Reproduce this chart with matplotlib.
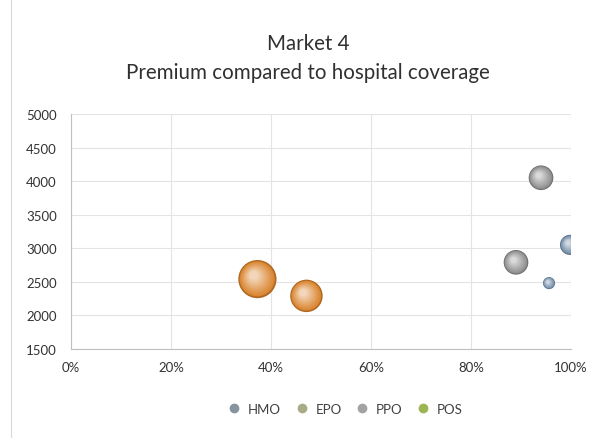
import matplotlib.pyplot as plt
import numpy as np
from matplotlib.colors import to_rgb
from matplotlib.patches import Rectangle
from matplotlib.lines import Line2D

plt.rcParams['font.family'] = ['Lato', 'DejaVu Sans']

# data: hospital coverage (x), premium (y), bubble size
series = ['HMO', 'EPO', 'PPO', 'POS']
hmo_x = [0.998, 0.956]
hmo_y = [3050, 2480]
hmo_size = [100, 36]
epo_x = [0.373, 0.471]
epo_y = [2540, 2290]
epo_size = [360, 260]
ppo_x = [0.94, 0.89]
ppo_y = [4050, 2790]
ppo_size = [150, 150]
pos_x = []
pos_y = []
pos_size = []

colors = {'HMO': '#6e8aa6', 'EPO': '#d9822b', 'PPO': '#8c8c8c', 'POS': '#9bbb59'}
legend_colors = {'HMO': '#8893a0', 'EPO': '#a9ab86', 'PPO': '#a3a3a3', 'POS': '#9bb553'}

fig = plt.figure(figsize=(6.16, 4.39), dpi=100)
fig.patches.append(Rectangle((0.018, -0.01), 1.0, 1.02, transform=fig.transFigure,
                             fill=False, edgecolor='#d9d9d9', lw=0.8))
ax = fig.add_axes([0.115, 0.203, 0.812, 0.535])
ax.set_xlim(0, 1.0)
ax.set_ylim(1500, 5000)
fig.canvas.draw()

scale = 2.1


def bubbles(x, y, size, color):
    # fake 3D shading: stack lighter circles shifted up-left
    if not x:
        return
    base = np.array(to_rgb(color))
    s = np.array(size) * scale
    ax.scatter(x, y, s=s, color=base * 0.8, zorder=3, lw=0)
    for k in np.linspace(0.05, 0.9, 10):
        c = base + (1 - base) * k * 0.75
        r = np.sqrt(s) * (1 - k * 0.85)
        off = np.sqrt(s) * k * 0.18 * 100 / 72 * 0.6
        pts = ax.transData.transform(np.column_stack([x, y]))
        pts[:, 0] -= off
        pts[:, 1] += off
        d = ax.transData.inverted().transform(pts)
        ax.scatter(d[:, 0], d[:, 1], s=r ** 2 * 0.92, color=np.clip(c, 0, 1),
                   zorder=3, lw=0)


bubbles(hmo_x, hmo_y, hmo_size, colors['HMO'])
bubbles(epo_x, epo_y, epo_size, colors['EPO'])
bubbles(ppo_x, ppo_y, ppo_size, colors['PPO'])
bubbles(pos_x, pos_y, pos_size, colors['POS'])

xt = np.arange(0, 1.01, 0.2)
ax.set_xticks(xt)
ax.set_xticklabels([f'{int(round(v * 100))}%' for v in xt])
ax.set_yticks(np.arange(1500, 5001, 500))
ax.tick_params(labelsize=9.5, colors='#333333', length=0)
ax.tick_params(axis='x', pad=9)
ax.tick_params(axis='y', pad=10)
ax.grid(True, color='#e4e4e4', lw=0.8)
ax.set_axisbelow(True)
for side in ['top', 'right']:
    ax.spines[side].set_visible(False)
for side in ['left', 'bottom']:
    ax.spines[side].set_color('#bfbfbf')

fig.text(0.5, 0.887, 'Market 4', ha='center', fontsize=14.8, color='#303030')
fig.text(0.5, 0.82, 'Premium compared to hospital coverage', ha='center',
         fontsize=14.8, color='#303030')

handles = [Line2D([], [], marker='o', ls='', color=legend_colors[s], markersize=6)
           for s in series]
fig.legend(handles, series, loc='center', bbox_to_anchor=(0.555, 0.067), ncol=4,
           frameon=False, fontsize=9.5, handletextpad=0.05, columnspacing=0.55,
           labelcolor='#404040')

fig.savefig('out.png', dpi=100, facecolor='white')
